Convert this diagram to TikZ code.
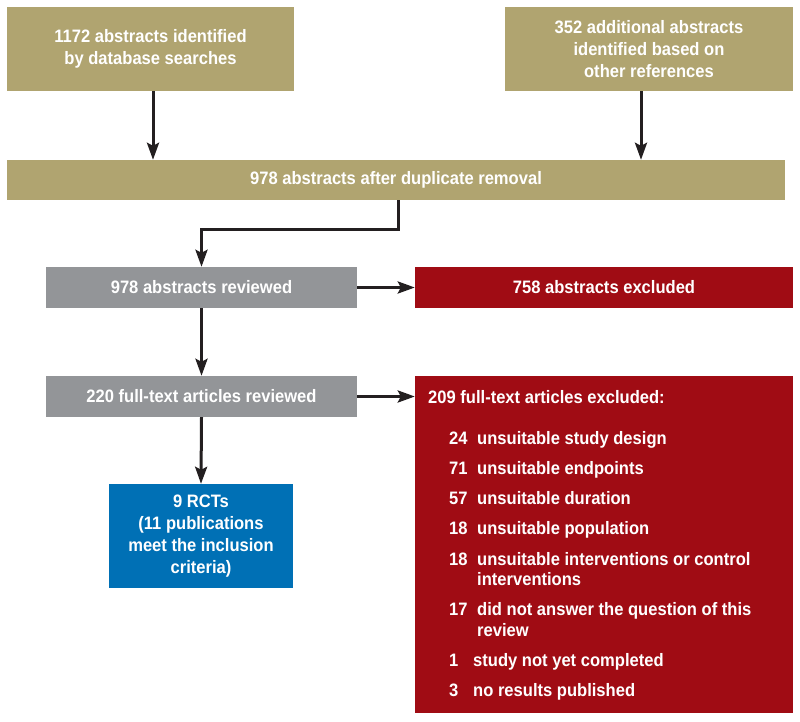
\documentclass[tikz,border=0pt]{standalone}
\usepackage{fontspec}
\setmainfont{Liberation Sans}[FakeStretch=0.92, UprightFont=* Bold]
\usetikzlibrary{arrows.meta}
\definecolor{khaki}{RGB}{176,164,112}
\definecolor{greybox}{RGB}{147,149,152}
\definecolor{redbox}{RGB}{160,12,20}
\definecolor{bluebox}{RGB}{0,112,181}
\definecolor{arrowc}{RGB}{35,31,32}
\tikzset{
  box/.style={draw=none, inner sep=0pt, text=white, align=center, font=\fontsize{18}{22}\selectfont},
  arr/.style={draw=arrowc, line width=3pt, -{Stealth[length=17pt,width=12pt,inset=3pt]}},
  listtxt/.style={anchor=base west, inner sep=0pt, text=white, font=\fontsize{18}{21}\selectfont, align=left}
}
\begin{document}
\begin{tikzpicture}[x=1pt,y=-1pt]
\useasboundingbox (0,0) rectangle (800,722);
\node[box, fill=khaki, minimum width=287pt, minimum height=84pt] (A) at (150.5,49) {1172 abstracts identified\\by database searches};
\node[box, fill=khaki, minimum width=288pt, minimum height=84pt] (B) at (649,49) {352 additional abstracts\\identified based on\\other references};
\node[box, fill=khaki, minimum width=778pt, minimum height=40pt] (C) at (396,180) {978 abstracts after duplicate removal};
\node[box, fill=greybox, minimum width=311pt, minimum height=41pt] (D) at (201.5,287.5) {978 abstracts reviewed};
\node[box, fill=redbox, minimum width=378pt, minimum height=41pt] (E) at (604,287.5) {758 abstracts excluded};
\node[box, fill=greybox, minimum width=311pt, minimum height=41pt] (F) at (201.5,396.5) {220 full-text articles reviewed};
\node[box, fill=redbox, minimum width=378pt, minimum height=337pt] (G) at (604,544.5) {};
\node[box, fill=bluebox, minimum width=184pt, minimum height=104pt] (H) at (201,536) {9 RCTs\\(11 publications\\meet the inclusion\\criteria)};
% list inside G
\node[listtxt] (g0) at (428,403) {209 full-text articles excluded:};
\node[listtxt] (n1) at (449,444) {24};
\node[listtxt] (t1) at (477,444) {unsuitable study design};
\node[listtxt] (n2) at (449,474) {71};
\node[listtxt] (t2) at (477,474) {unsuitable endpoints};
\node[listtxt] (n3) at (449,504) {57};
\node[listtxt] (t3) at (477,504) {unsuitable duration};
\node[listtxt] (n4) at (449,534) {18};
\node[listtxt] (t4) at (477,534) {unsuitable population};
\node[listtxt] (n5) at (449,565) {18};
\node[listtxt] (t5) at (477,565) {unsuitable interventions or control};
\node[listtxt] (t5b) at (477,585) {interventions};
\node[listtxt] (n6) at (449,615) {17};
\node[listtxt] (t6) at (477,615) {did not answer the question of this};
\node[listtxt] (t6b) at (477,636) {review};
\node[listtxt] (n7) at (449,666) {1};
\node[listtxt] (t7) at (473,666) {study not yet completed};
\node[listtxt] (n8) at (449,696) {3};
\node[listtxt] (t8) at (473,696) {no results published};
% connectors
\coordinate (ax) at (153,0);
\coordinate (bx) at (641,0);
\coordinate (cx) at (398,0);
\draw[arr] (ax |- A.south) -- (ax |- C.north);
\draw[arr] (bx |- B.south) -- (bx |- C.north);
\draw[arr] (cx |- C.south) -- ([yshift=-29pt]cx |- C.south) -| (D.north);
\draw[arr] (D.east) -- (E.west);
\draw[arr] (D.south) -- (F.north);
\draw[arr] (F.east) -- (G.west |- F.east);
\draw[arr] (F.south) -- (H.north);
\end{tikzpicture}
\end{document}
